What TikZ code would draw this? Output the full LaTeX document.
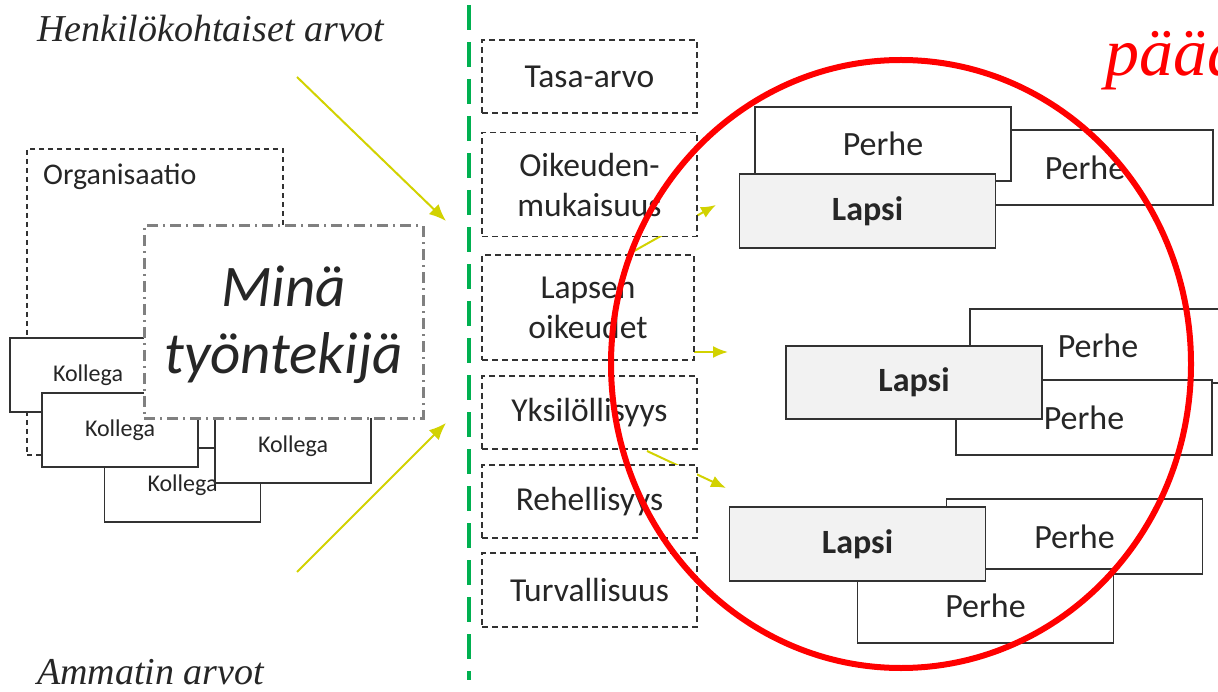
\documentclass[tikz,border=0pt]{standalone}
\usepackage{fontspec}
\setmainfont{Carlito}
\newfontfamily\headserif{Liberation Serif}
\usetikzlibrary{arrows.meta}

\definecolor{boxgray}{RGB}{50,50,50}
\definecolor{textgray}{RGB}{38,38,38}
\definecolor{arrowyellow}{RGB}{210,210,0}
\definecolor{linegreen}{RGB}{0,176,80}
\definecolor{minagray}{RGB}{128,128,128}
\definecolor{lapsifill}{RGB}{242,242,242}

\tikzset{
	valuebox/.style={draw=boxgray, line width=1.5pt, dash pattern=on 6pt off 4pt, fill=white,
		minimum width=215pt, inner sep=0pt, text=textgray, align=center,
		font=\fontsize{33.5}{40}\selectfont},
	kollegabox/.style={draw=boxgray, line width=1.5pt, fill=white, minimum width=156pt,
		minimum height=74pt, inner sep=0pt, text=textgray, font=\fontsize{24}{28}\selectfont},
	perhebox/.style={draw=boxgray, line width=1.8pt, fill=white, minimum width=256pt,
		minimum height=74pt, inner sep=0pt, text=textgray, font=\fontsize{34}{40}\selectfont},
	lapsibox/.style={perhebox, fill=lapsifill, font=\fontsize{34}{40}\selectfont\bfseries},
	bigarrow/.style={draw=arrowyellow, line width=2pt, -{Latex[length=17pt, width=14pt]}},
	smallarrow/.style={draw=arrowyellow, line width=2pt, -{Latex[length=15pt, width=12pt]}},
	heading/.style={anchor=base west, inner sep=0pt, text=textgray, font=\fontsize{38}{44}\selectfont\headserif\itshape}
}

\begin{document}
\begin{tikzpicture}[x=1pt, y=-1pt]
		\clip (0, 0) rectangle (1218, 692);
		\fill[white] (0, 0) rectangle (1218, 692);

		\node[heading] (henk) at (37, 42) {Henkilökohtaiset arvot};
		\node[heading] (amm) at (37, 684) {Ammatin arvot};

		% organisaatio and colleagues
		\node[draw=boxgray, line width=1.5pt, dash pattern=on 5pt off 4pt, fill=white,
			minimum width=256pt, minimum height=306pt] (org) at (155, 302) {};
		\node[anchor=base west, inner sep=0pt, text=textgray, font=\fontsize{30}{34}\selectfont] (orglabel) at (43, 185) {Organisaatio};
		\node[kollegabox] (kol1) at (88, 375) {Kollega};
		\node[kollegabox] (kol3) at (182.5, 485) {Kollega};
		\node[kollegabox] (kol2) at (120, 430) {Kollega};
		\node[kollegabox] (kol4) at (293, 446) {Kollega};

		\node[draw=minagray, line width=3pt, dash pattern=on 11pt off 5pt on 2pt off 5pt, fill=white,
			minimum width=279pt, minimum height=192pt, inner sep=0pt, align=center, text=textgray,
			font=\fontsize{59}{67}\selectfont\itshape] (mina) at (283.5, 322) {};
		\node[align=center, text=textgray, font=\fontsize{59}{67}\selectfont\itshape] (minatext) at (283.5, 325) {Minä\\työntekijä};

		\coordinate (henkstart) at (297, 77);
		\coordinate (henkend) at (446, 221);
		\coordinate (ammstart) at (297, 572);
		\coordinate (ammend) at (446, 423);
		\draw[bigarrow] (henkstart) -- (henkend);
		\draw[bigarrow] (ammstart) -- (ammend);

		\coordinate (greentop) at (469, 5);
		\coordinate (greenbot) at (469, 680);
		\draw[linegreen, line width=3.5pt, dash pattern=on 25pt off 12pt] (greentop) -- (greenbot);

		% arrows to the children, partly under the value boxes
		\coordinate (a1start) at (627, 255);
		\coordinate (a1end) at (716, 205);
		\coordinate (a2start) at (660, 352);
		\coordinate (a2end) at (728, 352);
		\coordinate (a3start) at (647, 451);
		\coordinate (a3end) at (726, 488);
		\draw[smallarrow] (a1start) -- (a1end);
		\draw[smallarrow] (a2start) -- (a2end);
		\draw[smallarrow] (a3start) -- (a3end);

		% values
		\node[valuebox, minimum height=73pt] (tasa) at (589.5, 76.5) {Tasa-arvo};
		\node[valuebox, minimum height=104pt] (oik) at (589.5, 184.5) {Oikeuden-\\mukaisuus};
		\node[valuebox, minimum height=105pt, minimum width=212pt] (lapsen) at (588, 307.5) {Lapsen\\oikeudet};
		\node[valuebox, minimum height=73pt] (yks) at (589.5, 412.5) {Yksilöllisyys};
		\node[valuebox, minimum height=73pt] (reh) at (589.5, 501.5) {Rehellisyys};
		\node[valuebox, minimum height=74pt] (turv) at (589.5, 590) {Turvallisuus};

		% families
		\node[perhebox, minimum height=75pt] (perhe1b) at (1085, 167.5) {Perhe};
		\node[perhebox] (perhe1a) at (883, 144) {Perhe};
		\node[lapsibox] (lapsi1) at (867.5, 211) {Lapsi};

		\node[perhebox] (perhe2a) at (1098, 346) {Perhe};
		\node[perhebox, minimum height=75pt] (perhe2b) at (1084, 417.5) {Perhe};
		\node[lapsibox, minimum height=73pt] (lapsi2) at (914, 382.5) {Lapsi};

		\node[perhebox, minimum height=75pt] (perhe3a) at (1074.5, 536.5) {Perhe};
		\node[perhebox] (perhe3b) at (985.5, 606) {Perhe};
		\node[lapsibox] (lapsi3) at (857.5, 544) {Lapsi};

		\draw[red, line width=6pt] (901, 364) ellipse[x radius=290, y radius=304];
		\node[anchor=base west, inner sep=0pt, text=red, font=\fontsize{68}{80}\selectfont\headserif\itshape] (paa) at (1105, 76) {pääd};
	\end{tikzpicture}
\end{document}
